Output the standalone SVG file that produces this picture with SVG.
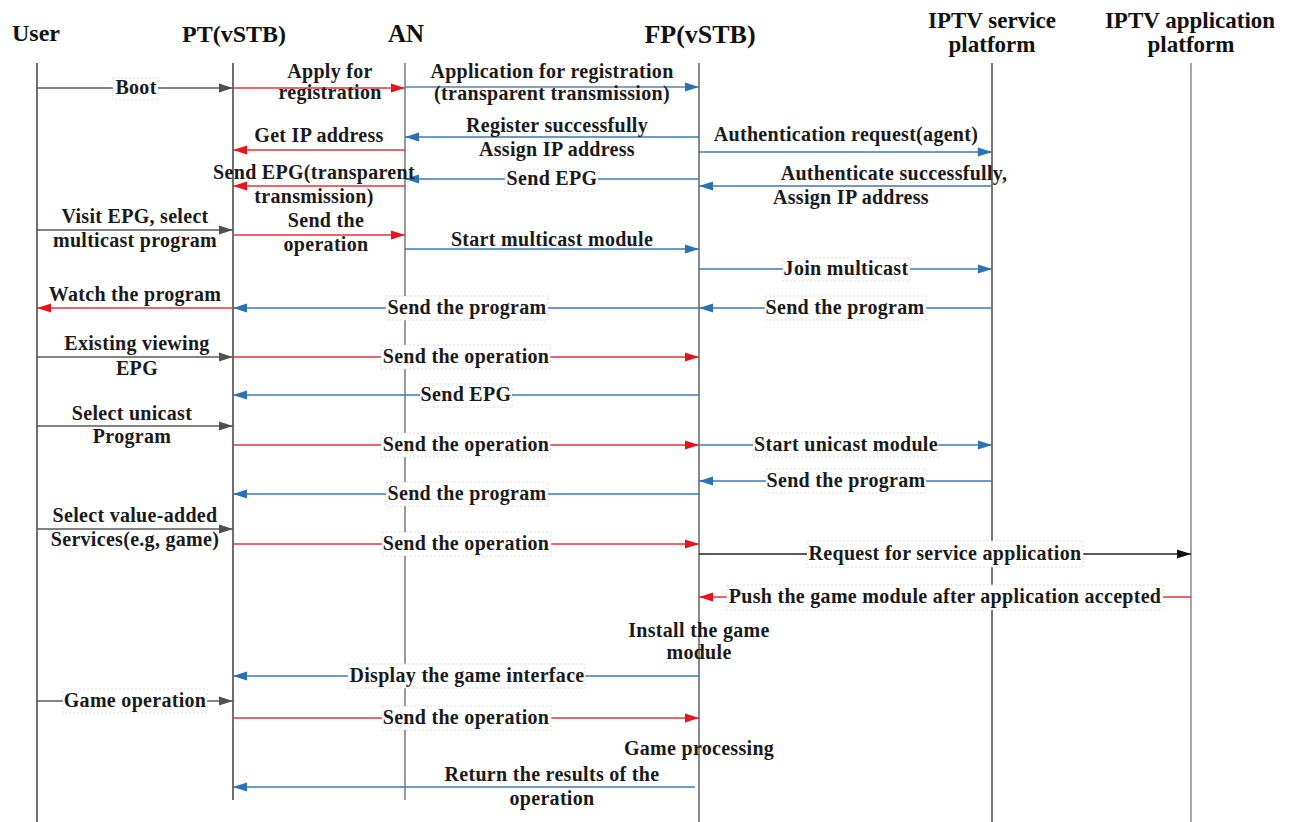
<svg xmlns="http://www.w3.org/2000/svg" width="1289" height="822" viewBox="0 0 1289 822">
  <style>
    .hdr { font-family: "Liberation Serif", "Times New Roman", serif; font-weight: bold; fill: #111; }
    .lbl { font-family: "Liberation Serif", "Times New Roman", serif; font-weight: bold; font-size: 20px; letter-spacing: 0.3px; fill: #1a1a1a; text-anchor: middle; }
    .life { fill: none; }
    .box { fill: #fff; stroke: #d6d6d6; stroke-width: 0.8; stroke-dasharray: 2 2; }
    .gray { stroke: #5a5a5a; stroke-width: 1.6; fill: none; marker-end: url(#ahGray); }
    .red { stroke: #e2353c; stroke-width: 1.6; fill: none; marker-end: url(#ahRed); }
    .blue { stroke: #3b77b2; stroke-width: 1.6; fill: none; marker-end: url(#ahBlue); }
    .black { stroke: #222; stroke-width: 1.4; fill: none; marker-end: url(#ahBlack); }
  </style>
  <defs>
    <marker id="ahGray" markerUnits="userSpaceOnUse" markerWidth="14" markerHeight="10" refX="14" refY="5" orient="auto">
      <path d="M0,0.5 L14,5 L0,9.5 z" fill="#505050"/>
    </marker>
    <marker id="ahRed" markerUnits="userSpaceOnUse" markerWidth="14" markerHeight="10" refX="14" refY="5" orient="auto">
      <path d="M0,0.5 L14,5 L0,9.5 z" fill="#e8141c"/>
    </marker>
    <marker id="ahBlue" markerUnits="userSpaceOnUse" markerWidth="14" markerHeight="10" refX="14" refY="5" orient="auto">
      <path d="M0,0.5 L14,5 L0,9.5 z" fill="#2a72b8"/>
    </marker>
    <marker id="ahBlack" markerUnits="userSpaceOnUse" markerWidth="14" markerHeight="10" refX="14" refY="5" orient="auto">
      <path d="M0,0.5 L14,5 L0,9.5 z" fill="#111"/>
    </marker>
  </defs>

  <rect width="1289" height="822" fill="#fff"/>

  <!-- Participants with their lifelines -->
  <g id="user">
    <text class="hdr" x="12" y="41" font-size="24">User</text>
    <line class="life" x1="37" y1="63" x2="37" y2="822" stroke="#333" stroke-width="1.4"/>
  </g>
  <g id="pt">
    <text class="hdr" x="234" y="42" font-size="24" text-anchor="middle">PT(vSTB)</text>
    <line class="life" x1="233" y1="63" x2="233" y2="800" stroke="#333" stroke-width="1.4"/>
  </g>
  <g id="an">
    <text class="hdr" x="406" y="42" font-size="25" text-anchor="middle">AN</text>
    <line class="life" x1="405" y1="63" x2="405" y2="800" stroke="#9a9a9a" stroke-width="2"/>
  </g>
  <g id="fp">
    <text class="hdr" x="700" y="43" font-size="26" text-anchor="middle">FP(vSTB)</text>
    <line class="life" x1="699" y1="63" x2="699" y2="822" stroke="#8a8a8a" stroke-width="2"/>
  </g>
  <g id="iptv-service">
    <text class="hdr" x="992" y="28" font-size="23" text-anchor="middle">IPTV service</text>
    <text class="hdr" x="992" y="52" font-size="23" text-anchor="middle">platform</text>
    <line class="life" x1="992" y1="63" x2="992" y2="822" stroke="#555" stroke-width="1.6"/>
  </g>
  <g id="iptv-application">
    <text class="hdr" x="1190" y="28" font-size="23" text-anchor="middle">IPTV application</text>
    <text class="hdr" x="1191" y="52" font-size="23" text-anchor="middle">platform</text>
    <line class="life" x1="1191" y1="63" x2="1191" y2="822" stroke="#a8a8a8" stroke-width="2"/>
  </g>

  <!-- Messages -->
  <g id="connectors">
    <!-- registration -->
    <line class="gray" x1="37" y1="88" x2="233" y2="88"/>
    <rect class="box" x="113" y="78" width="45" height="22"/>
    <text class="lbl" x="136" y="94">Boot</text>

    <line class="red" x1="233" y1="88" x2="405" y2="88"/>
    <text class="lbl" x="330" y="78">Apply for</text>
    <text class="lbl" x="330" y="99">registration</text>

    <line class="blue" x1="405" y1="87" x2="699" y2="87" style="stroke:#5c82a8"/>
    <text class="lbl" x="552" y="78">Application for registration</text>
    <text class="lbl" x="552" y="100">(transparent transmission)</text>

    <line class="blue" x1="699" y1="137" x2="405" y2="137"/>
    <text class="lbl" x="557" y="132">Register successfully</text>
    <text class="lbl" x="557" y="156">Assign IP address</text>

    <line class="red" x1="405" y1="150" x2="233" y2="150"/>
    <text class="lbl" x="319" y="142">Get IP address</text>

    <line class="blue" x1="699" y1="152" x2="992" y2="152"/>
    <text class="lbl" x="846" y="141">Authentication request(agent)</text>

    <line class="blue" x1="699" y1="179" x2="405" y2="179"/>
    <rect class="box" x="505" y="169" width="93" height="22"/>
    <text class="lbl" x="552" y="185">Send EPG</text>

    <line class="red" x1="405" y1="186" x2="233" y2="186"/>
    <text class="lbl" x="314" y="179">Send EPG(transparent</text>
    <text class="lbl" x="314" y="203">transmission)</text>

    <line class="blue" x1="992" y1="186" x2="699" y2="186"/>
    <text class="lbl" x="894" y="180">Authenticate successfully,</text>
    <text class="lbl" x="851" y="204">Assign IP address</text>

    <!-- multicast program -->
    <line class="gray" x1="37" y1="230" x2="233" y2="230"/>
    <text class="lbl" x="135" y="223">Visit EPG, select</text>
    <text class="lbl" x="135" y="247">multicast program</text>

    <line class="red" x1="233" y1="235" x2="405" y2="235"/>
    <text class="lbl" x="326" y="227">Send the</text>
    <text class="lbl" x="326" y="251">operation</text>

    <line class="blue" x1="405" y1="249" x2="699" y2="249"/>
    <text class="lbl" x="552" y="246">Start multicast module</text>

    <line class="blue" x1="699" y1="269" x2="992" y2="269"/>
    <rect class="box" x="783" y="258" width="127" height="23"/>
    <text class="lbl" x="846" y="275">Join multicast</text>

    <line class="blue" x1="992" y1="308" x2="699" y2="308"/>
    <rect class="box" x="765" y="296" width="161" height="24"/>
    <text class="lbl" x="845" y="314">Send the program</text>

    <line class="blue" x1="699" y1="308" x2="233" y2="308"/>
    <rect class="box" x="386" y="296" width="162" height="24"/>
    <text class="lbl" x="467" y="314">Send the program</text>

    <line class="red" x1="233" y1="308" x2="37" y2="308"/>
    <text class="lbl" x="135" y="301">Watch the program</text>

    <!-- EPG browsing -->
    <line class="gray" x1="37" y1="357" x2="233" y2="357"/>
    <text class="lbl" x="137" y="350">Existing viewing</text>
    <text class="lbl" x="137" y="375">EPG</text>

    <line class="red" x1="233" y1="357" x2="699" y2="357"/>
    <rect class="box" x="381" y="345" width="169" height="24"/>
    <text class="lbl" x="466" y="363">Send the operation</text>

    <line class="blue" x1="699" y1="395" x2="233" y2="395"/>
    <rect class="box" x="420" y="384" width="92" height="23"/>
    <text class="lbl" x="466" y="401">Send EPG</text>

    <!-- unicast program -->
    <line class="gray" x1="37" y1="426" x2="233" y2="426"/>
    <text class="lbl" x="132" y="420">Select unicast</text>
    <text class="lbl" x="132" y="443">Program</text>

    <line class="red" x1="233" y1="445" x2="699" y2="445"/>
    <rect class="box" x="381" y="433" width="169" height="24"/>
    <text class="lbl" x="466" y="451">Send the operation</text>

    <line class="blue" x1="699" y1="445" x2="992" y2="445"/>
    <rect class="box" x="753" y="433" width="185" height="24"/>
    <text class="lbl" x="846" y="451">Start unicast module</text>

    <line class="blue" x1="992" y1="481" x2="699" y2="481"/>
    <rect class="box" x="766" y="469" width="160" height="24"/>
    <text class="lbl" x="846" y="487">Send the program</text>

    <line class="blue" x1="699" y1="494" x2="233" y2="494"/>
    <rect class="box" x="386" y="482" width="162" height="24"/>
    <text class="lbl" x="467" y="500">Send the program</text>

    <!-- value-added service -->
    <line class="gray" x1="37" y1="529" x2="233" y2="529"/>
    <text class="lbl" x="135" y="522">Select value-added</text>
    <text class="lbl" x="135" y="546">Services(e.g, game)</text>

    <line class="red" x1="233" y1="544" x2="699" y2="544"/>
    <rect class="box" x="382" y="532" width="169" height="24"/>
    <text class="lbl" x="466" y="550">Send the operation</text>

    <line class="black" x1="699" y1="554" x2="1191" y2="554"/>
    <rect class="box" x="807" y="541" width="276" height="26"/>
    <text class="lbl" x="945" y="560">Request for service application</text>

    <line class="red" x1="1191" y1="597" x2="699" y2="597"/>
    <rect class="box" x="727" y="585" width="436" height="25"/>
    <text class="lbl" x="945" y="603">Push the game module after application accepted</text>

    <text class="lbl" x="699" y="637">Install the game</text>
    <text class="lbl" x="699" y="659">module</text>

    <line class="blue" x1="699" y1="676" x2="233" y2="676"/>
    <rect class="box" x="348" y="664" width="237" height="24"/>
    <text class="lbl" x="467" y="682">Display the game interface</text>

    <line class="gray" x1="37" y1="701" x2="233" y2="701"/>
    <rect class="box" x="63" y="689" width="144" height="24"/>
    <text class="lbl" x="135" y="707">Game operation</text>

    <line class="red" x1="233" y1="718" x2="699" y2="718"/>
    <rect class="box" x="382" y="706" width="169" height="24"/>
    <text class="lbl" x="466" y="724">Send the operation</text>

    <text class="lbl" x="699" y="755">Game processing</text>

    <line class="blue" x1="695" y1="787" x2="233" y2="787"/>
    <text class="lbl" x="552" y="781">Return the results of the</text>
    <text class="lbl" x="552" y="805">operation</text>
  </g>
</svg>
